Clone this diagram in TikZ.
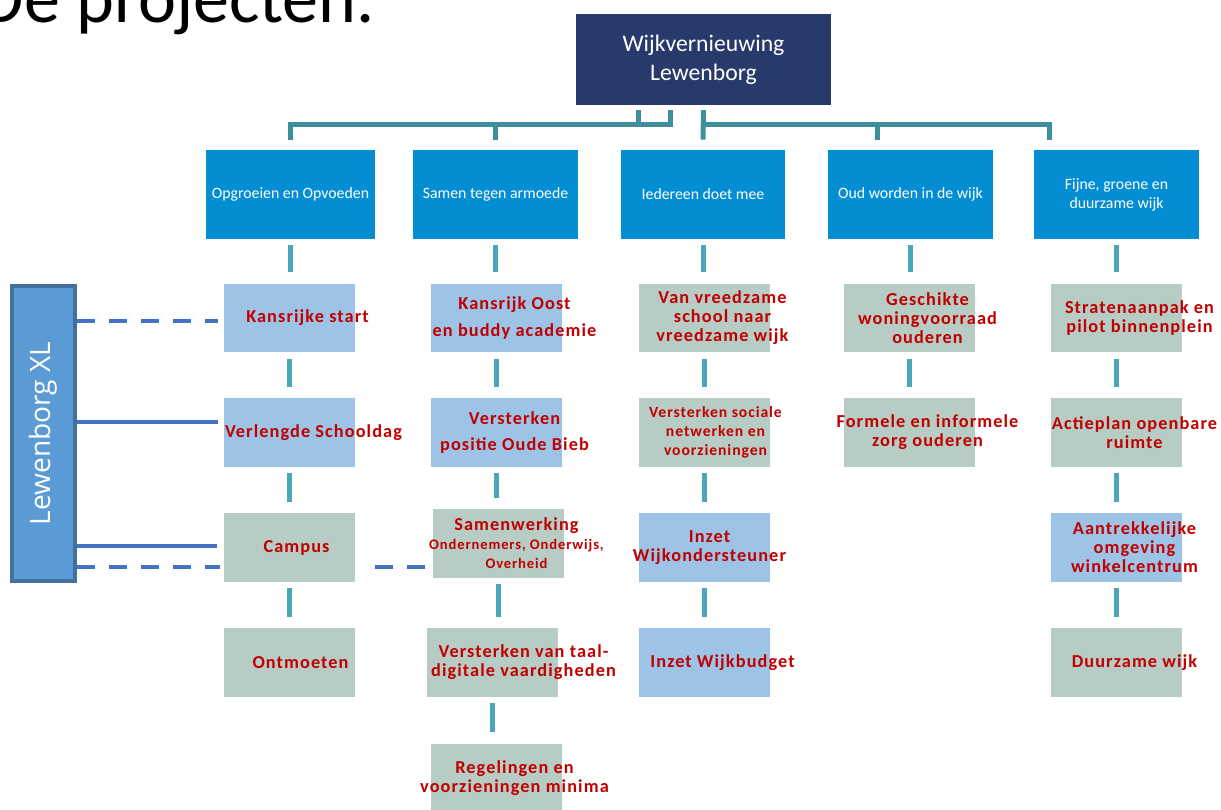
\documentclass[tikz,border=0pt]{standalone}
\usepackage{fontspec}
\setmainfont{Carlito}
\newfontfamily\rf{Carlito}[LetterSpace=6]
\newfontfamily\of{Open Sans}
\usepackage{tikz}
\usetikzlibrary{backgrounds}
\usetikzlibrary{calc}
\definecolor{navy}{RGB}{40,58,108}
\definecolor{hdblue}{RGB}{3,141,210}
\definecolor{lblue}{RGB}{157,195,230}
\definecolor{sage}{RGB}{182,204,196}
\definecolor{txred}{RGB}{192,0,0}
\definecolor{trunkc}{RGB}{63,142,158}
\definecolor{stubc}{RGB}{75,167,184}
\definecolor{linkc}{RGB}{68,114,196}
\definecolor{xlfill}{RGB}{91,155,213}
\definecolor{xlline}{RGB}{65,113,156}
\newcommand{\sm}{\fontsize{8.3}{9.6}\selectfont}
\newcommand{\smm}{\fontsize{8.9}{9.6}\selectfont}
\tikzstyle{root}=[fill=navy, text=white, minimum width=5.1cm, minimum height=1.82cm, align=center, font=\fontsize{13.5}{16.4}\selectfont]
\tikzstyle{hd}=[fill=hdblue, text=white, minimum width=3.3cm, minimum height=1.78cm, align=center, font=\fontsize{9}{10.8}\selectfont]
\tikzstyle{box}=[minimum width=2.62cm, minimum height=1.37cm, inner sep=0pt]
\tikzstyle{lb}=[box, fill=lblue]
\tikzstyle{gb}=[box, fill=sage]
\tikzstyle{tx}=[text=txred, align=center, xshift=0.36cm, inner sep=0pt, font=\rf\bfseries\fontsize{10.4}{10.8}\selectfont]
\tikzstyle{trunk}=[draw=trunkc, line width=0.1cm]
\tikzstyle{stub}=[draw=stubc, line width=0.1cm, shorten <=0.12cm, shorten >=0.22cm]
\tikzstyle{xlink}=[draw=linkc, line width=0.08cm]
\tikzstyle{xdash}=[xlink, dash pattern=on 0.36cm off 0.28cm]

\begin{document}
\begin{tikzpicture}[x=0.02cm, y=-0.02cm]
	\useasboundingbox (0,0) rectangle (1221,809);
	\clip (0,0) rectangle (1221,809);
	\node[anchor=base east, font=\fontsize{41}{48}\selectfont] (title) at (381,22) {De projecten.};
	% top and themes
	\draw (703.5,59.5) node[root] (root) {Wijkvernieuwing\\Lewenborg};
	\draw (290.5,194.5) node[hd] (h1) {Opgroeien en Opvoeden};
	\draw (495.5,194.5) node[hd] (h2) {Samen tegen armoede};
	\draw (703,194.5) node[hd] (h3) {Iedereen doet mee};
	\draw (910.5,194.5) node[hd] (h4) {Oud worden in de wijk};
	\draw (1116.5,194.5) node[hd] (h5) {Fijne, groene en\\duurzame wijk};
	\draw[trunk] ($(root.south)+(-65,5)$) |- ($(h1.north)+(0,-25)$) -- ($(h1.north)+(0,-10)$);
	\draw[trunk] ($(root.south)+(-33,5)$) |- ($(h2.north)+(0,-25)$) -- ($(h2.north)+(0,-10)$);
	\draw[trunk] ($(root.south)+(0,5)$) -- ($(h3.north)+(0,-10)$);
	\draw[trunk] ($(root.south)+(0,5)$) |- ($(h4.north)+(-33,-25)$) -- ($(h4.north)+(-33,-10)$);
	\draw[trunk] ($(root.south)+(0,5)$) |- ($(h5.north)+(-67,-25)$) -- ($(h5.north)+(-67,-10)$);
	% Opgroeien en Opvoeden
	\draw (289.5,318) node[lb] (a1) {} node[tx] (a1t) {Kansrijke start};
	\draw (289.5,432.5) node[lb] (a2) {} node[tx, xshift=0.12cm] (a2t) {Verlengde Schooldag};
	\draw (289.5,547.5) node[gb] (a3) {} node[tx, xshift=-0.22cm] (a3t) {Campus};
	\draw (289.5,662.5) node[gb] (a4) {} node[tx, xshift=-0.14cm] (a4t) {Ontmoeten};
	% Samen tegen armoede
	\draw (496.5,318) node[lb] (b1) {} node[tx] (b1t) {Kansrijk Oost\\[4.5pt]en buddy academie};
	\draw (496.5,432.5) node[lb] (b2) {} node[tx] (b2t) {Versterken\\[4.5pt]positie Oude Bieb};
	\draw (498.5,543.5) node[gb] (b3) {} node[tx] (b3t) {Samenwerking\\\sm Ondernemers, Onderwijs,\\\sm Overheid};
	\draw (492.5,662.5) node[gb] (b4) {} node[tx, xshift=0.26cm] (b4t) {Versterken van taal-\\digitale vaardigheden};
	\draw (496.5,778) node[gb] (b5) {} node[tx] (b5t) {Regelingen en\\voorzieningen minima};
	% Iedereen doet mee
	\draw (704.5,318) node[gb] (c1) {} node[tx] (c1t) {Van vreedzame\\school naar\\vreedzame wijk};
	\draw (704.5,432.5) node[gb] (c2) {} node[tx, xshift=-0.14cm] (c2t) {\smm Versterken sociale\\\smm netwerken en\\\smm voorzieningen};
	\draw (704.5,547.5) node[lb] (c3) {} node[tx, xshift=-0.26cm] (c3t) {Inzet\\Wijkondersteuner};
	\draw (704.5,662.5) node[lb] (c4) {} node[tx] (c4t) {Inzet Wijkbudget};
	% Oud worden in de wijk
	\draw (909.5,318) node[gb] (d1) {} node[tx] (d1t) {Geschikte\\woningvoorraad\\ouderen};
	\draw (909.5,432.5) node[gb] (d2) {} node[tx] (d2t) {Formele en informele\\zorg ouderen};
	% Fijne, groene en duurzame wijk
	\draw (1116.5,318) node[gb] (e1) {} node[tx, xshift=0.1cm] (e1t) {Stratenaanpak en\\pilot binnenplein};
	\draw (1116.5,432.5) node[gb] (e2) {} node[tx] (e2t) {Actieplan openbare\\ruimte};
	\draw (1116.5,547.5) node[lb] (e3) {} node[tx] (e3t) {Aantrekkelijke\\omgeving\\winkelcentrum};
	\draw (1116.5,662.5) node[gb] (e4) {} node[tx] (e4t) {Duurzame wijk};
	% stubs
	\draw[stub] (h1.south) -- (h1.south |- a1.north);
	\draw[stub] (a1.south) -- (a1.south |- a2.north);
	\draw[stub] (a2.south) -- (a2.south |- a3.north);
	\draw[stub] (a3.south) -- (a3.south |- a4.north);
	\draw[stub] (h2.south) -- (h2.south |- b1.north);
	\draw[stub] (b1.south) -- (b1.south |- b2.north);
	\draw[stub] (b2.south) -- (b2.south |- b3.north);
	\draw[stub] (b3.south) -- (b3.south |- b4.north);
	\draw[stub] (b4.south) -- (b4.south |- b5.north);
	\draw[stub] (h3.south) -- (h3.south |- c1.north);
	\draw[stub] (c1.south) -- (c1.south |- c2.north);
	\draw[stub] (c2.south) -- (c2.south |- c3.north);
	\draw[stub] (c3.south) -- (c3.south |- c4.north);
	\draw[stub] (h4.south) -- (h4.south |- d1.north);
	\draw[stub] (d1.south) -- (d1.south |- d2.north);
	\draw[stub] (h5.south) -- (h5.south |- e1.north);
	\draw[stub] (e1.south) -- (e1.south |- e2.north);
	\draw[stub] (e2.south) -- (e2.south |- e3.north);
	\draw[stub] (e3.south) -- (e3.south |- e4.north);
	% Lewenborg XL
	\draw (43.5,433.5) node[fill=xlfill, draw=xlline, line width=0.08cm, minimum width=1.26cm, minimum height=5.9cm] (lxl) {};
	\node[rotate=90, text=white, font=\of\fontsize{16}{19}\selectfont] (lxlt) at (lxl) {Lewenborg XL};
	\coordinate (p1) at ($(a1.west)+(-6,3)$);
	\coordinate (p2) at ($(a2.west)+(-6,-11)$);
	\coordinate (p3) at ($(a3.west)+(-7,-2)$);
	\coordinate (p4) at ($(a3.west)+(-4,19.5)$);
	\coordinate (p5) at ($(b3.west)+(-5,23.5)$);
	\draw[xdash] (lxl.east |- p1) -- (p1);
	\draw[xlink] (lxl.east |- p2) -- (p2);
	\draw[xlink] (lxl.east |- p3) -- (p3);
	\draw[xdash] (lxl.east |- p4) -- (p4);
	\draw[xdash, shorten <=0.4cm] (a3.east |- p5) -- (p5);
\end{tikzpicture}
\end{document}
